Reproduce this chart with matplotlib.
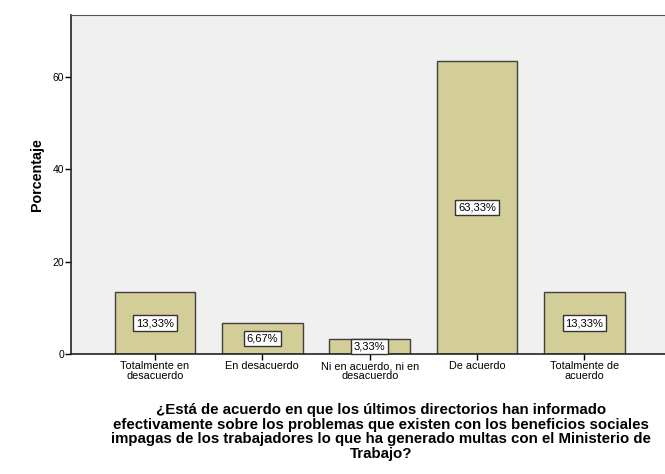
import numpy as np
import matplotlib.pyplot as plt

plt.rcParams.update({
    "font.family": ["Liberation Sans", "DejaVu Sans"],
    "font.size": 7.5})

categories = ["Totalmente en\ndesacuerdo", "En desacuerdo", "Ni en acuerdo, ni en\ndesacuerdo",
              "De acuerdo", "Totalmente de\nacuerdo"]
percent = [13.33, 6.67, 3.33, 63.33, 13.33]
labels = ["13,33%", "6,67%", "3,33%", "63,33%", "13,33%"]
yticks = [0, 20, 40, 60]
title = ("¿Está de acuerdo en que los últimos directorios han informado\n"
         "efectivamente sobre los problemas que existen con los beneficios sociales\n"
         "impagas de los trabajadores lo que ha generado multas con el Ministerio de\n"
         "Trabajo?")


def plot(plot_file: str) -> None:
    fig = plt.figure(figsize=(6.65, 4.74), dpi=100)
    ax = fig.add_axes([0.107, 0.253, 0.893, 0.715])
    ax.set_facecolor("#f0f0f0")

    x = np.arange(len(categories))
    ax.bar(x, percent, width=0.75, color="#d3ce97", edgecolor="#404040", linewidth=1.0)

    for xi, v, lab in zip(x, percent, labels):
        ax.text(xi, v / 2, lab, ha="center", va="center", fontsize=8,
                bbox=dict(boxstyle="square,pad=0.25", facecolor="white", edgecolor="#333333", linewidth=1.0))

    ax.set_xlim(-0.78, 4.75)
    ax.set_ylim(0, 73.3)
    ax.set_xticks(x)
    ax.set_xticklabels(categories, linespacing=0.95, fontsize=7.8)
    ax.set_yticks(yticks)
    ax.tick_params(axis="both", length=4, width=1, pad=1, colors="black")

    ax.spines["right"].set_visible(False)
    ax.spines["top"].set_color("#555555")
    for s in ("left", "bottom"):
        ax.spines[s].set_linewidth(1.2)
        ax.spines[s].set_color("#222222")

    ax.set_ylabel("Porcentaje", fontsize=10.3, fontweight="bold")
    ax.yaxis.set_label_coords(-0.045, 0.53)
    fig.text(381 / 665, 1 - 403 / 474, title, ha="center", va="top", fontsize=10.8,
             fontweight="bold", linespacing=1.05)

    fig.savefig(plot_file, dpi=100)
    plt.close(fig)


plot("out.png")
